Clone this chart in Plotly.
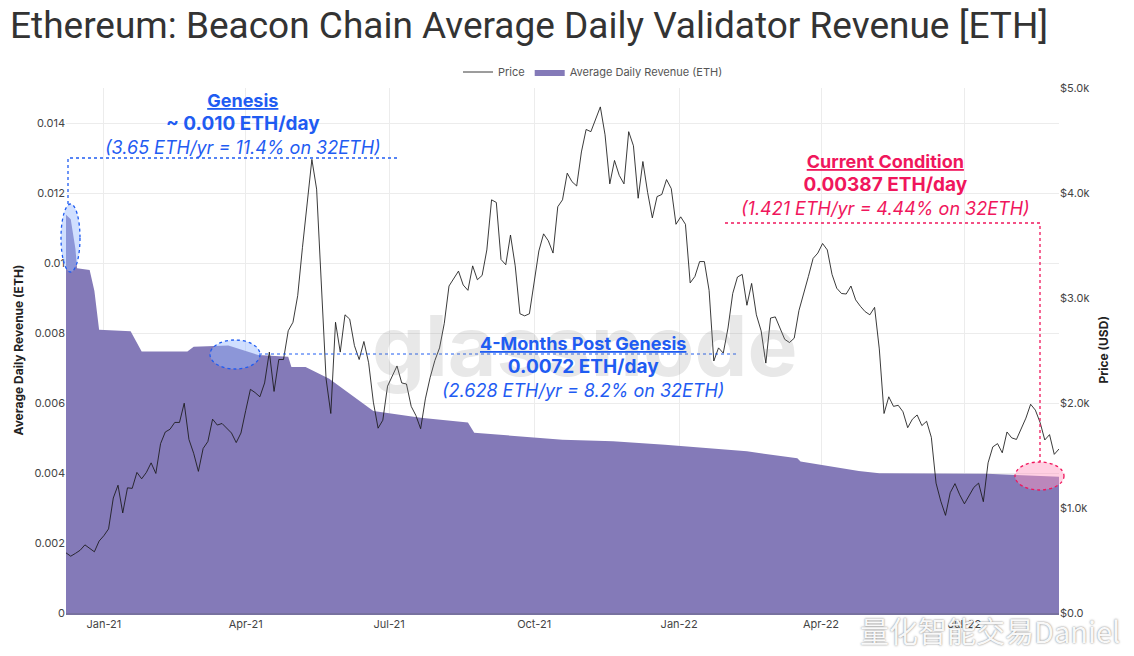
import plotly.graph_objects as go
import pandas as pd

# ---------------- data ----------------
price_start = "2020-12-08"
price_step_days = 3
price_usd = [
    573, 541, 568, 598, 649, 619, 583, 685, 736, 801,
    1095, 1217, 953, 1192, 1187, 1339, 1278, 1339, 1430, 1329,
    1613, 1724, 1750, 1815, 1815, 1998, 1653, 1521, 1349, 1567,
    1633, 1846, 1790, 1805, 1755, 1714, 1623, 1714, 1927, 2130,
    2099, 2059, 2191, 2485, 2110, 2414, 2414, 2688, 2769, 3022,
    3479, 3884, 4320, 4037, 3174, 2231, 1900, 2769, 2485, 2840,
    2799, 2546, 2414, 2586, 2383, 2008, 1760, 1836, 2160, 2262,
    2353, 2191, 2181, 1968, 1881, 1755, 2039, 2241, 2404, 2525,
    2759, 3114, 3185, 3256, 3124, 3073, 3306, 3174, 3215, 3458,
    3935, 3910, 3367, 3317, 3600, 3306, 2850, 2830, 2850, 3154,
    3448, 3611, 3545, 3428, 3869, 3935, 4189, 4108, 4067, 4391,
    4605, 4584, 4700, 4820, 4554, 4087, 4310, 4168, 4087, 4584,
    4450, 3950, 4300, 4006, 3763, 3966, 3986, 4128, 4042, 3702,
    3773, 3702, 3144, 3205, 3347, 3347, 3073, 2400, 2525, 2475,
    2714, 3043, 3200, 3225, 2931, 3139, 2840, 2688, 2380, 2809,
    2820, 2708, 2606, 2576, 2617, 2880, 3032, 3205, 3377, 3428,
    3519, 3458, 3225, 3093, 3043, 3038, 3114, 2982, 2921, 2870,
    2840, 2911, 2515, 1900, 2059, 1968, 1978, 1917, 1765, 1846,
    1886, 1785, 1826, 1673, 1237, 1065, 930, 1146, 1232, 1126,
    1040, 1121, 1197, 1237, 1060, 1430, 1582, 1613, 1526, 1724,
    1668, 1653, 1750, 1856, 1988, 1932, 1815, 1648, 1699, 1511,
    1562,
]
price_dates = pd.date_range(price_start, periods=len(price_usd), freq=f"{price_step_days}D")

revenue_dates = [
    "2020-12-08", "2020-12-11", "2020-12-14", "2020-12-15", "2020-12-23",
    "2020-12-26", "2020-12-29", "2021-01-18", "2021-01-25", "2021-02-23",
    "2021-02-27", "2021-03-21", "2021-04-09", "2021-04-28", "2021-04-30",
    "2021-05-09", "2021-05-24", "2021-06-02", "2021-06-21", "2021-07-21",
    "2021-08-20", "2021-08-24", "2021-10-19", "2021-11-20", "2021-12-23",
    "2022-02-13", "2022-03-17", "2022-03-19", "2022-04-25", "2022-05-08",
    "2022-05-20", "2022-07-15", "2022-08-30",
]
revenue_eth = [
    0.01138, 0.01125, 0.01040, 0.00985, 0.00980,
    0.00921, 0.00809, 0.00805, 0.00747, 0.00747,
    0.00761, 0.00764, 0.00737, 0.00732, 0.00703,
    0.00703, 0.00669, 0.00640, 0.00577, 0.00558,
    0.00544, 0.00515, 0.00495, 0.00491, 0.00481,
    0.00462, 0.00442, 0.00433, 0.00406, 0.00399,
    0.00399, 0.00398, 0.00389,
]

x_range = ["2020-12-08", "2022-08-30"]
x_tick_start = "2021-01-01"
y_left_range = [0, 0.015]
y_right_range = [0, 5000]
y_right_tickvals = [0, 1000, 2000, 3000, 4000, 5000]
y_right_ticktext = ["$0.0", "$1.0k", "$2.0k", "$3.0k", "$4.0k", "$5.0k"]

# ---------------- styling ----------------
W, H = 1134, 656
ML, MR, MT, MB = 66, 75, 88, 43
PW, PH = W - ML - MR, H - MT - MB


def px(xp):
    return (xp - ML) / PW


def py(yp):
    return (H - MB - yp) / PH


BLUE = "#1f5cf2"
PINK = "#f0165c"
FONT = "Inter"

fig = go.Figure()

fig.add_trace(go.Scatter(
    x=price_dates, y=price_usd, name="Price", yaxis="y2",
    mode="lines", line=dict(color="rgba(25,25,25,0.85)", width=1),
    hoverinfo="skip",
))
fig.add_trace(go.Scatter(
    x=revenue_dates, y=revenue_eth, name="Average Daily Revenue (ETH)",
    mode="lines", line=dict(color="#847ab8", width=0),
    fill="tozeroy", fillcolor="#847ab8", hoverinfo="skip",
))

shapes = []
# Genesis dashed leader + ellipse
shapes.append(dict(type="path", xref="paper", yref="paper",
                   path=f"M {px(68)} {py(204)} L {px(68)} {py(158)} L {px(398)} {py(158)}",
                   line=dict(color=BLUE, width=1.3, dash="dot")))
shapes.append(dict(type="circle", xref="paper", yref="paper",
                   x0=px(61), x1=px(80), y0=py(272), y1=py(204),
                   fillcolor="rgba(150,185,255,0.45)",
                   line=dict(color=BLUE, width=1.3, dash="dot")))
# 4-months dashed line + ellipse
shapes.append(dict(type="line", xref="paper", yref="paper",
                   x0=px(259), x1=px(737), y0=py(354), y1=py(354),
                   line=dict(color=BLUE, width=1, dash="dot")))
shapes.append(dict(type="circle", xref="paper", yref="paper",
                   x0=px(210), x1=px(260), y0=py(369), y1=py(340),
                   fillcolor="rgba(150,185,255,0.45)",
                   line=dict(color=BLUE, width=1.3, dash="dot")))
# Current condition dashed leader + ellipse
shapes.append(dict(type="path", xref="paper", yref="paper",
                   path=f"M {px(725)} {py(223)} L {px(1040)} {py(223)} L {px(1040)} {py(462)}",
                   line=dict(color=PINK, width=1.3, dash="dot")))
shapes.append(dict(type="circle", xref="paper", yref="paper",
                   x0=px(1015), x1=px(1064), y0=py(490), y1=py(462),
                   fillcolor="rgba(255,150,190,0.45)",
                   line=dict(color=PINK, width=1.3, dash="dot")))

ann = []


def txt(text, xp, yp, color, size, family=FONT, **kw):
    ann.append(dict(text=text, xref="paper", yref="paper", x=px(xp), y=py(yp),
                    xanchor="center", yanchor="middle", showarrow=False,
                    font=dict(family=family, size=size, color=color), **kw))


# watermark
txt("<b>glassnode</b>", 585, 345, "rgba(140,140,140,0.2)", 84)

B19 = "<span style='font-size:19px'><b>{}</b></span>"
txt("<b><u>Genesis</u></b><br>" + B19.format("~ 0.010 ETH/day") +
    "<br><i>(3.65 ETH/yr = 11.4% on 32ETH)</i>", 243, 124, BLUE, 18)
txt("<b><u>4-Months Post Genesis</u></b><br>" + B19.format("0.0072 ETH/day") +
    "<br><i>(2.628 ETH/yr = 8.2% on 32ETH)</i>", 583, 367, BLUE, 18)
txt("<b><u>Current Condition</u></b><br>" + B19.format("0.00387 ETH/day") +
    "<br><i>(1.421 ETH/yr = 4.44% on 32ETH)</i>", 885, 185, PINK, 18)

# axis titles
ann.append(dict(text="<b>Average Daily Revenue (ETH)</b>", xref="paper", yref="paper",
                x=px(18), y=0.5, textangle=-90, showarrow=False,
                xanchor="center", yanchor="middle",
                font=dict(family=FONT, size=12, color="#222")))
ann.append(dict(text="<b>Price (USD)</b>", xref="paper", yref="paper",
                x=px(1103), y=0.5, textangle=-90, showarrow=False,
                xanchor="center", yanchor="middle",
                font=dict(family=FONT, size=12, color="#222")))

# social watermark
ann.append(dict(text="量化智能交易Daniel", xref="paper", yref="paper",
                x=px(990), y=py(630), showarrow=False,
                xanchor="center", yanchor="middle",
                font=dict(family="Noto Sans CJK SC", size=29, color="rgba(255,255,255,0.95)",
                          shadow="0px 0px 2px rgba(90,90,90,0.9)")))

fig.update_layout(
    width=W, height=H,
    margin=dict(l=ML, r=MR, t=MT, b=MB, autoexpand=False),
    paper_bgcolor="white", plot_bgcolor="white",
    title=dict(text="Ethereum: Beacon Chain Average Daily Validator Revenue [ETH]",
               x=10 / W, xref="container", xanchor="left",
               y=1 - 25 / H, yref="container", yanchor="middle",
               font=dict(family="Roboto", size=37, color="#333")),
    legend=dict(orientation="h", x=px(593), xanchor="center", y=py(72), yanchor="middle",
                font=dict(family=FONT, size=11, color="#555"), bgcolor="rgba(0,0,0,0)",
                itemwidth=30, traceorder="normal"),
    showlegend=True,
    xaxis=dict(type="date", range=x_range, tickformat="%b-%y", dtick="M3", tick0=x_tick_start,
               showgrid=True, gridcolor="#ececec", gridwidth=1,
               showline=True, linecolor="#77719f", linewidth=1.5,
               tickfont=dict(family=FONT, size=11, color="#444"), ticks="", zeroline=False),
    yaxis=dict(range=y_left_range, dtick=0.002, tick0=0, showgrid=True, gridcolor="#ececec",
               zeroline=False, tickfont=dict(family=FONT, size=11, color="#444"), ticks=""),
    yaxis2=dict(range=y_right_range, overlaying="y", side="right", showgrid=False,
                tickvals=y_right_tickvals, ticktext=y_right_ticktext, zeroline=False,
                tickfont=dict(family=FONT, size=11, color="#444"), ticks=""),
    shapes=shapes, annotations=ann, hovermode=False,
)

fig.write_html("out.html", config={"displayModeBar": False},
               post_script="document.body.style.margin='0';")
